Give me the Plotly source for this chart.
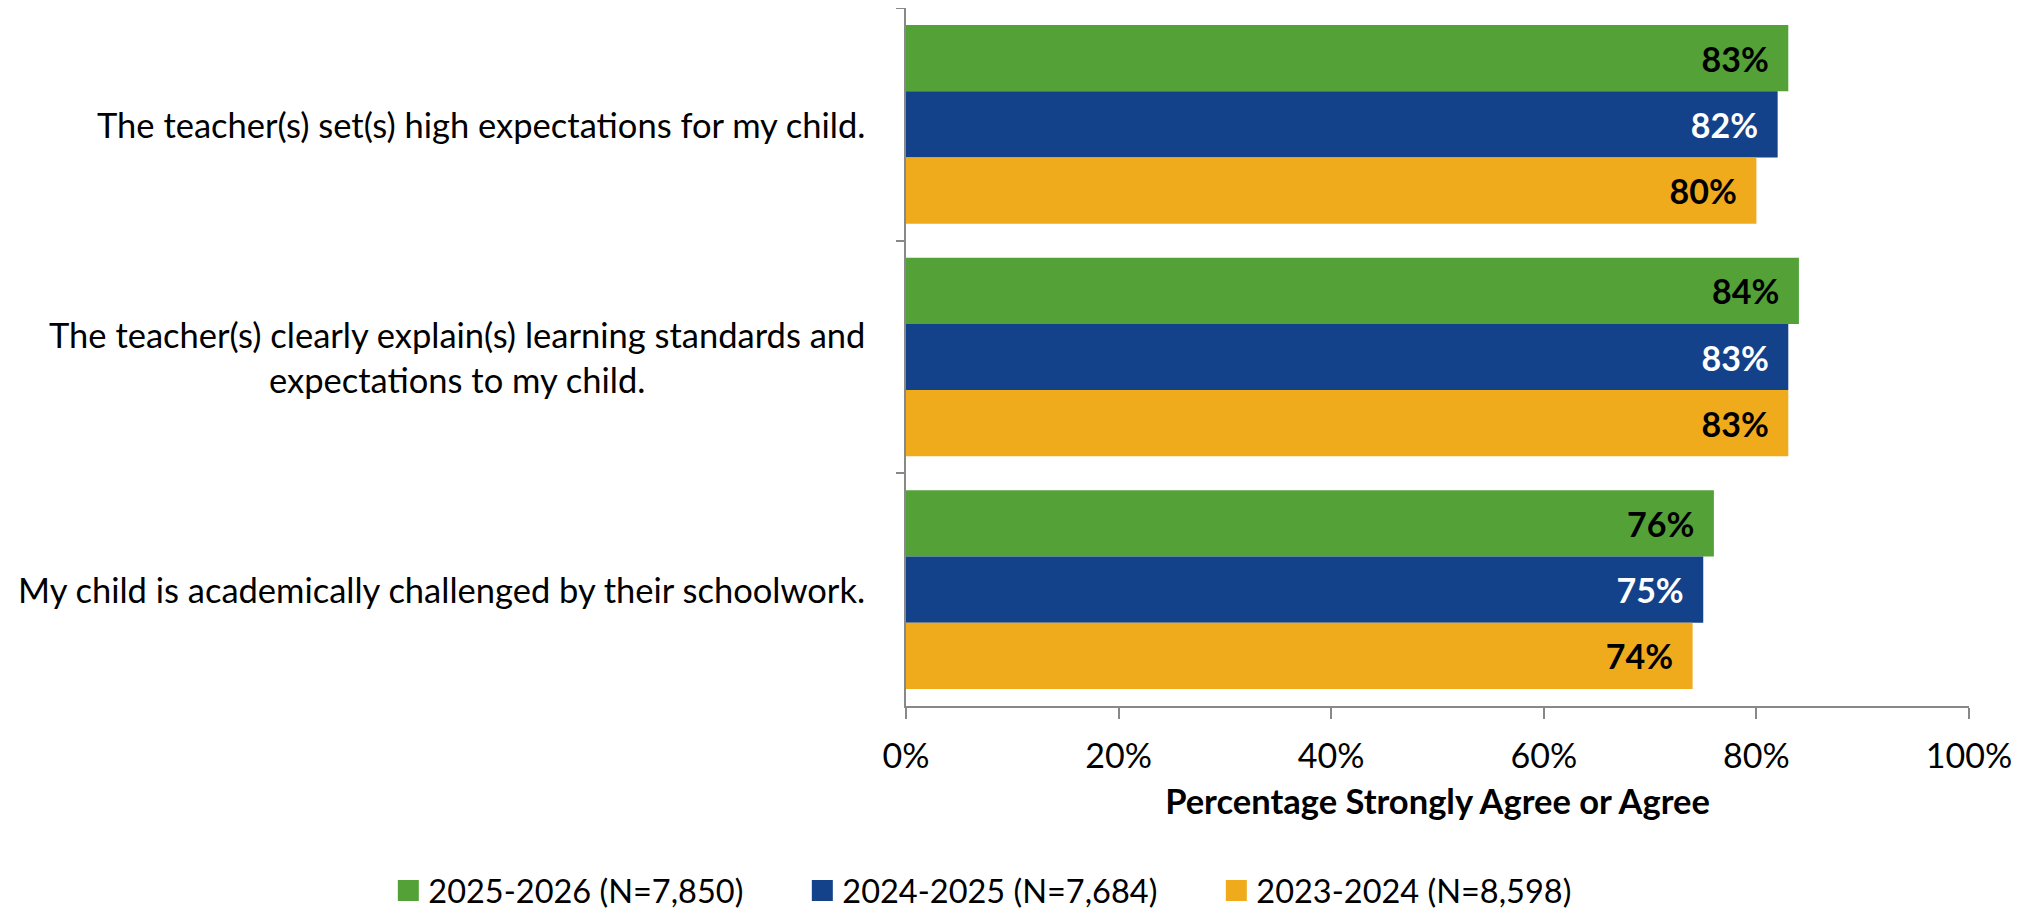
import plotly.graph_objects as go

categories = [
    "The teacher(s) set(s) high expectations for my child.",
    "The teacher(s) clearly explain(s) learning standards and<br>expectations to my child.",
    "My child is academically challenged by their schoolwork.",
]
series_names = ["2025-2026 (N=7,850)", "2024-2025 (N=7,684)", "2023-2024 (N=8,598)"]
values_2025_2026 = [83, 84, 76]
values_2024_2025 = [82, 83, 75]
values_2023_2024 = [80, 83, 74]
x_ticks = [0, 20, 40, 60, 80, 100]

series_values = [values_2025_2026, values_2024_2025, values_2023_2024]
colors = ["#53A137", "#13428A", "#F0AB1C"]
label_colors = ["#000000", "#FFFFFF", "#000000"]
FONT = "Lato"

fig = go.Figure()
for name, vals, col, lc in zip(series_names, series_values, colors, label_colors):
    fig.add_trace(go.Bar(
        y=categories, x=vals, orientation="h", name=name,
        marker=dict(color=col, line=dict(width=0)),
        text=[f"{v}%\u00a0\u00a0" for v in vals], textposition="inside",
        insidetextanchor="end", textangle=0,
        textfont=dict(family=FONT, size=34, color=lc, weight="bold"),
        showlegend=False, hoverinfo="skip",
    ))
# legend proxies (larger squares)
for name, col in zip(series_names, colors):
    fig.add_trace(go.Scatter(
        x=[None], y=[None], mode="markers", name=name,
        marker=dict(symbol="square", size=16, color=col, line=dict(color=col, width=5)),
        showlegend=True,
    ))

for cat in categories:
    fig.add_annotation(
        x=-0.037, xref="paper", y=cat, yref="y", text=cat,
        showarrow=False, xanchor="right", yanchor="middle", align="center",
        font=dict(family=FONT, size=34.5, color="#000000"),
    )

fig.update_layout(
    width=2020, height=902,
    margin=dict(l=898, r=59, t=0, b=204, autoexpand=False),
    paper_bgcolor="white", plot_bgcolor="white",
    barmode="group", bargap=0.146, bargroupgap=0,
    font=dict(family=FONT, size=32, color="#000000"),
    legend=dict(
        orientation="h", xref="paper", x=-0.487, xanchor="left",
        y=-0.265, yanchor="middle",
        font=dict(family=FONT, size=32.5, color="#000000"),
        entrywidth=369, entrywidthmode="pixels", itemsizing="trace",
    ),
)
fig.update_xaxes(
    range=[0, 100], tickvals=x_ticks, ticktext=[f"{t}%" for t in x_ticks],
    showgrid=False, zeroline=False,
    showline=True, linecolor="#888888", linewidth=2,
    ticks="outside", ticklen=11, tickcolor="#888888", tickwidth=2,
    ticklabelstandoff=8,
    tickfont=dict(family=FONT, size=34, color="#000000"),
    title=dict(text="Percentage Strongly Agree or Agree",
               font=dict(family=FONT, size=34.5, color="#000000", weight="bold"),
               standoff=16),
)
fig.update_yaxes(
    autorange="reversed", showticklabels=False, showgrid=False,
    showline=True, linecolor="#888888", linewidth=2,
    ticks="outside", tickson="boundaries", ticklen=8, tickcolor="#888888", tickwidth=2,
)

fig.write_html("out.html")
